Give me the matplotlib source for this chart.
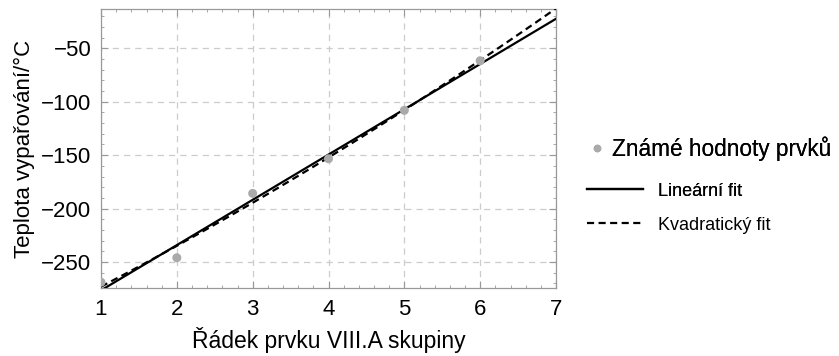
import numpy as np
import matplotlib
matplotlib.use("Agg")
import matplotlib.pyplot as plt
from matplotlib.lines import Line2D
from matplotlib.ticker import MultipleLocator

plt.rcParams['font.family'] = ['Liberation Sans', 'DejaVu Sans']

# Data: boiling points of noble gases (period 1..6)
periods = [1, 2, 3, 4, 5, 6]
boiling = [-268.9, -246.0, -185.8, -153.4, -108.1, -61.7]
xticks = [1, 2, 3, 4, 5, 6, 7]
yticks = [-250, -200, -150, -100, -50]

x = np.array(periods, dtype=float)
y = np.array(boiling)
lin = np.polyfit(x, y, 1)
quad = np.polyfit(x, y, 2)
xs = np.linspace(1, 7, 200)

W, H = 839, 356
fig = plt.figure(figsize=(W/100, H/100), dpi=100)
ax = fig.add_axes([101/W, 68/H, (556-101)/W, (288-9)/H])

dash = (0, (3.2, 2.0))
ax.plot(xs, np.polyval(lin, xs), color='black', lw=1.6, zorder=3)
ax.plot(xs, np.polyval(quad, xs), color='black', lw=1.6, ls=dash, zorder=3)
ax.scatter(x, y, s=42, color='#aaaaaa', zorder=4, edgecolors='none')

ax.set_xlim(1, 7)
ax.set_ylim(-274.3, -13.3)
ax.set_xticks(xticks)
ax.set_yticks(yticks)
ax.set_yticklabels(['\u2212' + str(abs(v)) for v in yticks])
ax.xaxis.set_minor_locator(MultipleLocator(0.2))
ax.yaxis.set_minor_locator(MultipleLocator(10))
ax.tick_params(which='both', direction='in', top=True, right=True, color='#999999')
ax.tick_params(which='major', length=5, width=0.8, labelsize=16)
ax.tick_params(axis='x', which='major', pad=8)
ax.tick_params(axis='y', which='major', pad=7)
ax.tick_params(which='minor', length=2.5, width=0.6)
for s in ax.spines.values():
    s.set_color('#999999')
    s.set_linewidth(0.9)
ax.grid(True, which='major', color='#cccccc', ls=(0, (5, 4)), lw=0.9)
ax.set_axisbelow(True)

ax.set_xlabel('Řádek prvku VIII.A skupiny', fontsize=16.5, labelpad=5)
ax.set_ylabel('Teplota vypařování/°C', fontsize=16, labelpad=4)

# Legends (three separate entries, as in the reference)
fs1 = 16.3
em1 = fs1 * 100 / 72
leg1 = fig.legend([Line2D([], [], marker='o', ls='none', color='#aaaaaa', markersize=5.5, markeredgewidth=0)],
                  ['Známé hodnoty prvků'], loc='center left', bbox_to_anchor=(590/W, 1-149/H),
                  frameon=False, fontsize=fs1, handlelength=14/em1, handletextpad=8/em1,
                  borderpad=0, borderaxespad=0)
fs2 = 13
em2 = fs2 * 100 / 72
leg2 = fig.legend([Line2D([], [], color='black', lw=1.6)], ['Lineární fit'],
                  loc='center left', bbox_to_anchor=(587/W, 1-191/H),
                  frameon=False, fontsize=fs2, handlelength=56/em2, handletextpad=15/em2,
                  borderpad=0, borderaxespad=0)
leg3 = fig.legend([Line2D([], [], color='black', lw=1.6, ls=dash)], ['Kvadratický fit'],
                  loc='center left', bbox_to_anchor=(587/W, 1-225/H),
                  frameon=False, fontsize=fs2, handlelength=56/em2, handletextpad=15/em2,
                  borderpad=0, borderaxespad=0)
fig.add_artist(leg1)
fig.add_artist(leg2)

fig.savefig('out.png', dpi=100)
